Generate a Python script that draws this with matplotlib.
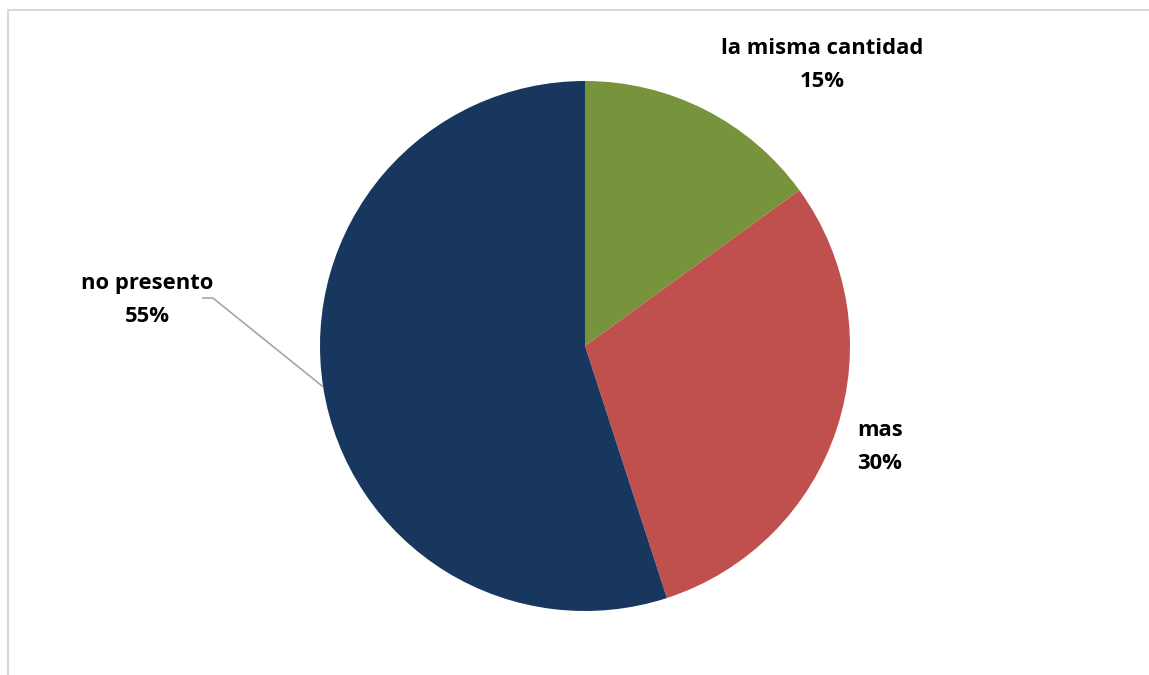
import matplotlib.pyplot as plt
from matplotlib.patches import Rectangle

categorias = ["la misma cantidad", "mas", "no presento"]
porcentajes = [15, 30, 55]
colores = ["#77933C", "#C0504D", "#17375E"]

fig = plt.figure(figsize=(11.49, 6.75), dpi=100)
W, H = 1149, 675

# borde gris del grafico (solo se ve arriba y a la izquierda)
fig.patches.append(Rectangle((8 / W, -0.1), 1.2, (H - 10) / H + 0.1, transform=fig.transFigure,
                             fill=False, edgecolor="#D9D9D9", linewidth=1.5))

cx, cy, r = 585, 346, 265
ax = fig.add_axes([(cx - r) / W, (H - cy - r) / H, 2 * r / W, 2 * r / H])
ax.pie(porcentajes, colors=colores, startangle=90, counterclock=False,
       radius=1, wedgeprops=dict(linewidth=0))
ax.set_xlim(-1, 1)
ax.set_ylim(-1, 1)
ax.set_aspect("auto")
ax.axis("off")

pos_etiquetas = [(0.894, 1.06), (1.113, -0.381), (-1.653, 0.174)]
for cat, p, (x, y) in zip(categorias, porcentajes, pos_etiquetas):
    ax.text(x, y, f"{cat}\n{p}%", ha="center", va="center", fontsize=15.8,
            fontweight="bold", family="Open Sans", linespacing=1.75, clip_on=False)

# linea guia de "no presento"
ax.plot([-1.442, -1.404, -0.992], [0.181, 0.181, -0.151], color="#A6A6A6",
        linewidth=1.2, clip_on=False)

fig.savefig("out.png", dpi=100)
